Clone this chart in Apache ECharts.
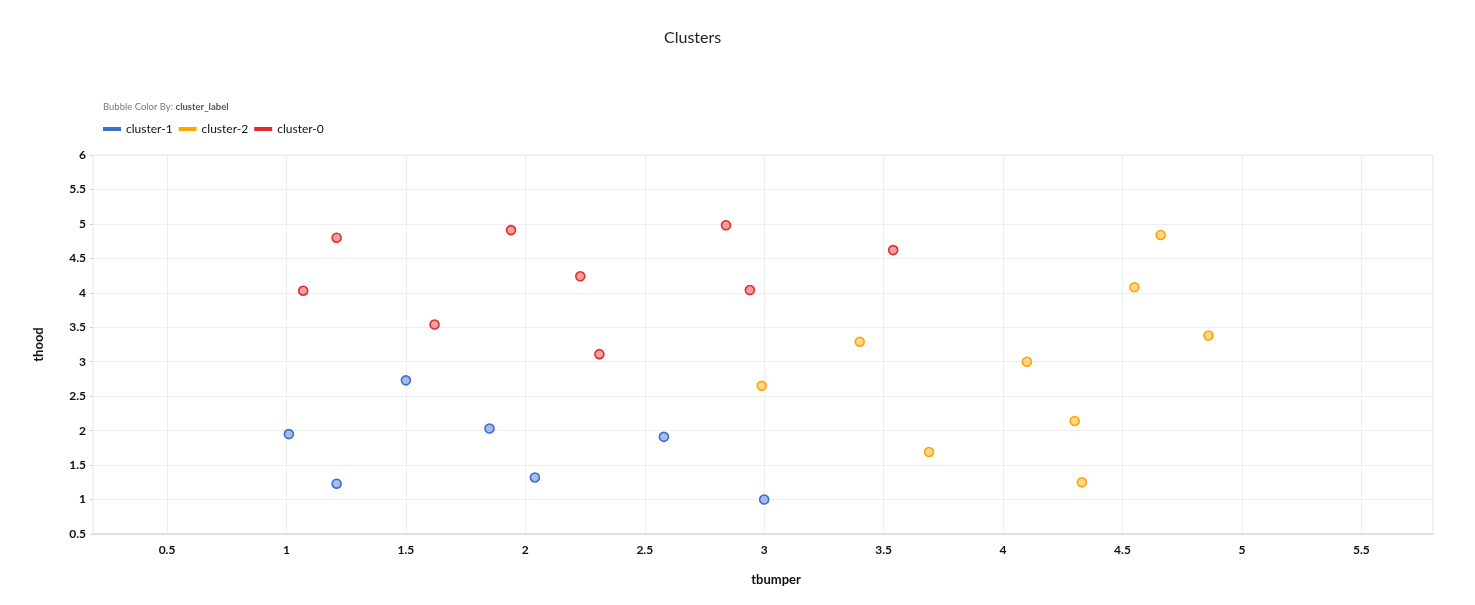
<!DOCTYPE html>
<html>
<head>
<meta charset="utf-8">
<script src="https://cdn.jsdelivr.net/npm/echarts@6/dist/echarts.min.js"></script>
<style>
html,body{margin:0;padding:0;background:#fff;}
#chart{width:1475px;height:605px;}
</style>
</head>
<body>
<div id="chart"></div>
<script>
// ---- data ----
var seriesNames = ['cluster-1', 'cluster-2', 'cluster-0'];
var cluster1 = [[1.01, 1.95], [1.21, 1.23], [1.50, 2.73], [1.85, 2.03], [2.04, 1.32], [2.58, 1.91], [3.00, 1.00]];
var cluster2 = [[2.99, 2.65], [3.40, 3.29], [3.69, 1.69], [4.10, 3.00], [4.30, 2.14], [4.33, 1.25], [4.55, 4.08], [4.66, 4.84], [4.86, 3.38]];
var cluster0 = [[1.07, 4.03], [1.21, 4.80], [1.62, 3.54], [1.94, 4.91], [2.23, 4.24], [2.31, 3.11], [2.84, 4.98], [2.94, 4.04], [3.54, 4.62]];
var xTicks = [0.5, 1, 1.5, 2, 2.5, 3, 3.5, 4, 4.5, 5, 5.5];
var xMin = 0.19, xMax = 5.8;
var yMin = 0.5, yMax = 6, yStep = 0.5;

var lineColors = ['#3a6fcf', '#ffa500', '#e32d2d'];
var fillColors = ['rgba(58,111,207,0.45)', 'rgba(255,165,0,0.45)', 'rgba(227,45,45,0.45)'];
var dataSets = [cluster1, cluster2, cluster0];

var font = 'Lato, "Open Sans", sans-serif';
var chart = echarts.init(document.getElementById('chart'));

var series = seriesNames.map(function (n, i) {
  return {
    name: n,
    type: 'scatter',
    data: dataSets[i],
    symbol: 'circle',
    symbolSize: 9,
    itemStyle: { color: fillColors[i], borderColor: lineColors[i], borderWidth: 1.6, opacity: 1 }
  };
});

chart.setOption({
  animation: false,
  textStyle: { fontFamily: font },
  title: {
    text: 'Clusters',
    left: 659, top: 25,
    textStyle: { fontSize: 16, fontWeight: 'normal', color: '#222', fontFamily: font }
  },
  graphic: [{
    type: 'text', left: 103, top: 102,
    style: {
      text: '{a|Bubble Color By: }{b|cluster_label}',
      rich: {
        a: { fontSize: 9.5, fill: '#777', fontFamily: font },
        b: { fontSize: 9.5, fill: '#555', fontWeight: 'bold', fontFamily: font }
      }
    }
  }],
  legend: {
    left: 98, top: 118,
    icon: 'rect', itemWidth: 18, itemHeight: 4, itemGap: 6,
    textStyle: { fontSize: 12, color: '#111', fontFamily: font },
    data: seriesNames.map(function (n, i) { return { name: n, itemStyle: { color: lineColors[i], borderWidth: 0 } }; })
  },
  grid: { left: 93, right: 42, top: 155, bottom: 71, containLabel: false, show: true, borderColor: '#e6e6e6', borderWidth: 1 },
  xAxis: {
    type: 'value', min: xMin, max: xMax,
    name: 'tbumper', nameLocation: 'middle', nameGap: 39,
    nameTextStyle: { fontSize: 13, fontWeight: 'bold', color: '#111', fontFamily: font, padding: [0, 0, 0, 26] },
    axisLine: { show: true, lineStyle: { color: '#d9d9d9', width: 1.5 } },
    axisTick: { show: false, customValues: xTicks },
    axisLabel: { customValues: xTicks, fontSize: 12, fontWeight: 'bold', color: '#111', margin: 10, fontFamily: font },
    splitLine: { show: true, lineStyle: { color: '#eeeeee', width: 1 } }
  },
  yAxis: {
    type: 'value', min: yMin, max: yMax, interval: yStep,
    name: 'thood', nameLocation: 'middle', nameGap: 48, nameRotate: 90,
    nameTextStyle: { fontSize: 13, fontWeight: 'bold', color: '#111', fontFamily: font },
    axisLine: { show: false },
    axisTick: { show: true, length: 3, lineStyle: { color: '#d0d0d0' } },
    axisLabel: { fontSize: 12, fontWeight: 'bold', color: '#111', margin: 7, fontFamily: font },
    splitLine: { show: true, lineStyle: { color: '#eeeeee', width: 1 } }
  },
  series: series
});
</script>
</body>
</html>
